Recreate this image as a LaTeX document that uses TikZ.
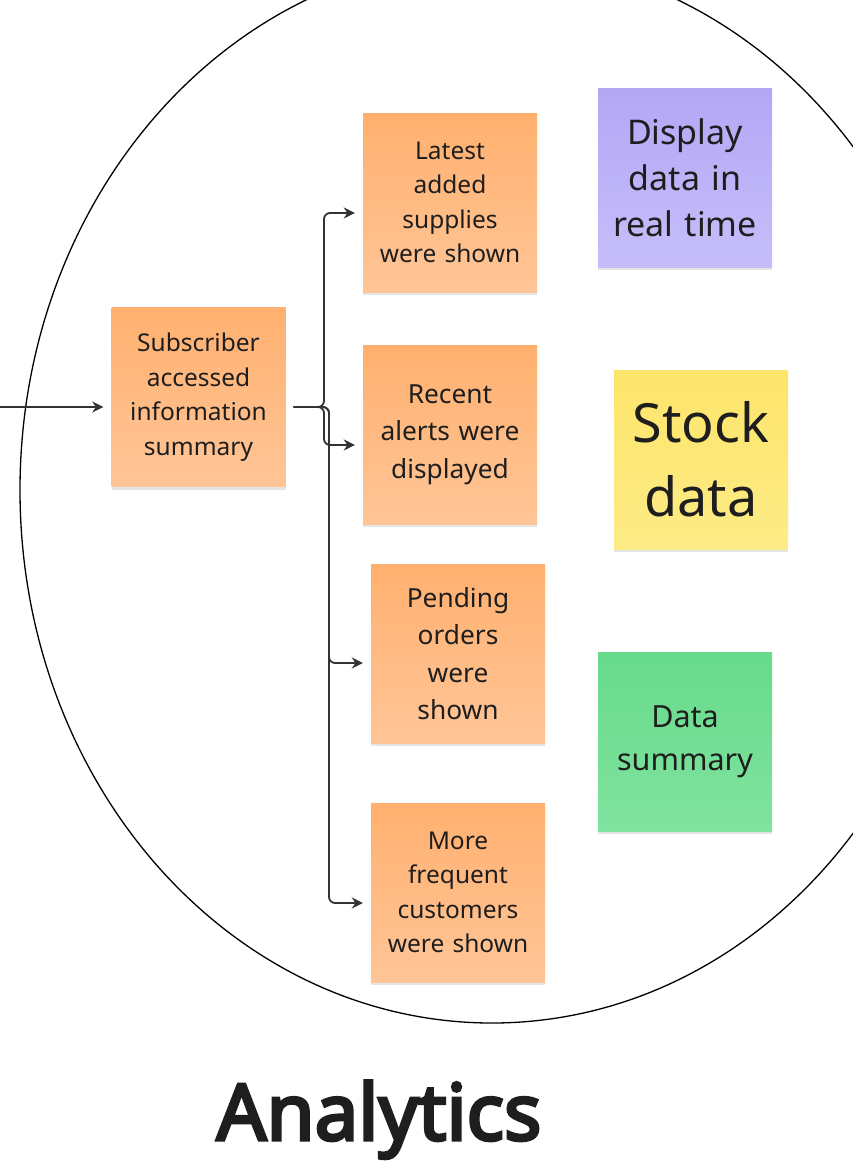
\documentclass[tikz,border=0pt]{standalone}
\usepackage{fontspec}
\setmainfont{Noto Sans}
\newfontfamily\titlefont{Noto Sans}[FakeBold=4]
\usetikzlibrary{arrows.meta,shadows}
\definecolor{inkc}{HTML}{1E1E1E}
\definecolor{ortop}{HTML}{FFB06F}
\definecolor{orbot}{HTML}{FFC597}
\definecolor{putop}{HTML}{B3A7F5}
\definecolor{pubot}{HTML}{C6BEFA}
\definecolor{yetop}{HTML}{FDE46A}
\definecolor{yebot}{HTML}{FDEC86}
\definecolor{grtop}{HTML}{67DA8B}
\definecolor{grbot}{HTML}{80E39F}
\definecolor{linec}{HTML}{333333}
\tikzset{
  note/.style={minimum width=174pt, minimum height=179pt, inner sep=0pt,
    align=center, text=inkc, text width=172pt,
    drop shadow={shadow xshift=0pt, shadow yshift=-3pt, opacity=0.10, fill=black}},
  orange/.style={note, top color=ortop, bottom color=orbot},
  purple/.style={note, top color=putop, bottom color=pubot},
  yellow/.style={note, top color=yetop, bottom color=yebot},
  green/.style={note, top color=grtop, bottom color=grbot},
  small/.style={font=\fontsize{24.5}{34.5}\selectfont},
  mid/.style={font=\fontsize{26.3}{37.5}\selectfont},
  conn/.style={draw=linec, line width=1.8pt, rounded corners=6pt,
    -{Stealth[length=11pt,width=11pt]}},
}
\begin{document}
\begin{tikzpicture}[x=1pt,y=-1pt]
\useasboundingbox (0,0) rectangle (853,1171);
\begin{scope}
\clip (0,0) rectangle (853,1171);
\draw[line width=1.3pt, black] (492,490) ellipse [x radius=472, y radius=533];
\end{scope}
% notes
\node[orange, small] (sub) at (198.5,397) {Subscriber\\accessed\\information\\summary};
\node[orange, small] (latest) at (450,202.5) {Latest\\added\\supplies\\were shown};
\node[orange, mid] (recent) at (450,434.5) {Recent\\alerts were\\displayed};
\node[orange, mid] (pending) at (458,653.5) {Pending\\orders\\were\\shown};
\node[orange, small] (freq) at (458,892.5) {More\\frequent\\customers\\were shown};
\node[purple, font=\fontsize{34}{46}\selectfont] (disp) at (685,177.5) {Display\\data in\\real time};
\node[yellow, font=\fontsize{54}{74}\selectfont] (stock) at (701,459.5) {Stock\\data};
\node[green, font=\fontsize{30.5}{43}\selectfont] (summ) at (685,741.5) {Data\\summary};
% title
\node[font=\titlefont\fontsize{78}{90}\selectfont, text=inkc, anchor=base] (title) at (379,1140) {Analytics};
% connectors
\coordinate (start) at (0,407);
\coordinate (ja) at (324,407);
\coordinate (jb) at (329,407);
\draw[conn, shorten >=8pt] (start) -- (sub.west |- start);
\draw[conn, shorten <=8pt, shorten >=8pt] (sub.east |- ja) -- (ja) |- (latest.west |- 0,213);
\draw[conn, shorten <=8pt, shorten >=8pt] (sub.east |- ja) -- (ja) |- (recent.west |- 0,445);
\draw[conn, shorten <=8pt, shorten >=8pt] (sub.east |- jb) -- (jb) |- (pending.west |- 0,663);
\draw[conn, shorten <=8pt, shorten >=8pt] (sub.east |- jb) -- (jb) |- (freq.west |- 0,903);
\end{tikzpicture}
\end{document}
